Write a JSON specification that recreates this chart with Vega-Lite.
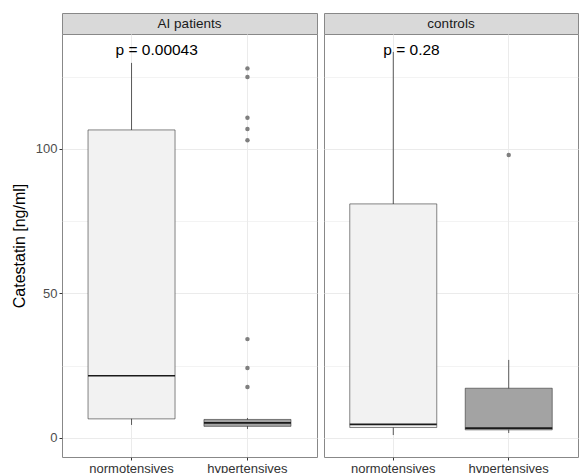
{
  "$schema": "https://vega.github.io/schema/vega-lite/v6.json",
  "background": "white",
  "padding": {"left": 10, "top": 12, "right": 2, "bottom": 0},
  "config": {"font": "Liberation Sans", "view": {"stroke": null}},
  "datasets": {
    "boxes": [
      {"panel": "AI patients", "group": "normotensives", "lower": 4.5, "q1": 6.6, "median": 21.5, "q3": 106.6, "upper": 129.8},
      {"panel": "AI patients", "group": "hypertensives", "lower": 3.1, "q1": 4.0, "median": 5.2, "q3": 6.4, "upper": 6.9},
      {"panel": "controls", "group": "normotensives", "lower": 1.0, "q1": 3.6, "median": 4.7, "q3": 81.0, "upper": 133.6},
      {"panel": "controls", "group": "hypertensives", "lower": 1.7, "q1": 2.8, "median": 3.4, "q3": 17.2, "upper": 27.0}
    ],
    "outliers": [
      {"panel": "AI patients", "group": "hypertensives", "value": 127.9},
      {"panel": "AI patients", "group": "hypertensives", "value": 124.9},
      {"panel": "AI patients", "group": "hypertensives", "value": 110.8},
      {"panel": "AI patients", "group": "hypertensives", "value": 106.9},
      {"panel": "AI patients", "group": "hypertensives", "value": 103.0},
      {"panel": "AI patients", "group": "hypertensives", "value": 34.2},
      {"panel": "AI patients", "group": "hypertensives", "value": 24.2},
      {"panel": "AI patients", "group": "hypertensives", "value": 17.6},
      {"panel": "controls", "group": "hypertensives", "value": 97.9}
    ],
    "pvals": [
      {"panel": "AI patients", "group": "normotensives", "y": 132.5, "label": "p = 0.00043"},
      {"panel": "controls", "group": "normotensives", "y": 132.5, "label": "p = 0.28"}
    ]
  },
  "spacing": 5,
  "hconcat": [
    {
      "bounds": "flush",
      "spacing": 0,
      "vconcat": [
        {
          "data": {"values": [{"panel": "AI patients"}]},
          "width": 255, "height": 21,
          "view": {"fill": "#D9D9D9", "stroke": "#888888", "strokeWidth": 1},
          "mark": {"type": "text", "fontSize": 13.5, "color": "#1A1A1A", "baseline": "middle"},
          "encoding": {"text": {"field": "panel"}}
        },
        {
          "width": 255, "height": 423,
          "view": {"fill": "white", "stroke": "#888888", "strokeWidth": 1},
          "encoding": {
            "x": {"field": "group", "type": "nominal", "title": null,
              "scale": {"type": "band", "domain": ["normotensives", "hypertensives"], "paddingInner": 0, "paddingOuter": 0.1},
              "axis": {"bandPosition": 0.5, "grid": true, "gridColor": "#EBEBEB", "domain": false, "tickColor": "#333333", "tickSize": 3, "labelFontSize": 13, "labelColor": "#333333", "labelPadding": 2, "labelAngle": 0}
            }
          },
          "layer": [
            {
              "data": {"name": "boxes"},
              "transform": [{"filter": "datum.panel === 'AI patients'"}],
              "mark": {"type": "rule", "color": "#333333", "strokeWidth": 0.8},
              "encoding": {
                "y": {"field": "lower", "type": "quantitative", "title": "Catestatin [ng/ml]",
                  "scale": {"domain": [-6.6, 139.8], "nice": false, "zero": false},
                  "axis": {"values": [0, 25, 50, 75, 100, 125], "labelExpr": "datum.value % 50 === 0 ? datum.label : ''",
                    "grid": true, "gridColor": "#EBEBEB", "gridWidth": {"condition": {"test": "datum.value % 50 === 0", "value": 1}, "value": 0.6},
                    "domain": false, "tickColor": "#333333", "tickSize": 3,
                    "tickOpacity": {"condition": {"test": "datum.value % 50 === 0", "value": 1}, "value": 0},
                    "labelFontSize": 13, "labelColor": "#4D4D4D", "labelPadding": 2,
                    "titleFontSize": 16, "titleFontWeight": "normal", "titleColor": "black", "titlePadding": 8}
                },
                "y2": {"field": "upper"}
              }
            },
            {
              "data": {"name": "boxes"},
              "transform": [{"filter": "datum.panel === 'AI patients'"}],
              "mark": {"type": "bar", "size": 87, "stroke": "#333333", "strokeWidth": 0.6},
              "encoding": {
                "y": {"field": "q1", "type": "quantitative", "title": "Catestatin [ng/ml]"},
                "y2": {"field": "q3"},
                "fill": {"field": "group", "type": "nominal", "legend": null,
                  "scale": {"domain": ["normotensives", "hypertensives"], "range": ["#F2F2F2", "#A3A3A3"]}}
              }
            },
            {
              "data": {"name": "boxes"},
              "transform": [{"filter": "datum.panel === 'AI patients'"}],
              "mark": {"type": "tick", "size": 87, "thickness": 1.6, "color": "#1A1A1A", "opacity": 1},
              "encoding": {
                "y": {"field": "median", "type": "quantitative", "title": "Catestatin [ng/ml]"}
              }
            },
            {
              "data": {"name": "outliers"},
              "transform": [{"filter": "datum.panel === 'AI patients'"}],
              "mark": {"type": "point", "filled": true, "size": 20, "color": "#7F7F7F", "opacity": 1},
              "encoding": {
                "y": {"field": "value", "type": "quantitative", "title": "Catestatin [ng/ml]"}
              }
            },
            {
              "data": {"name": "pvals"},
              "transform": [{"filter": "datum.panel === 'AI patients'"}],
              "mark": {"type": "text", "align": "left", "dx": -16, "baseline": "alphabetic", "fontSize": 15.5, "color": "black"},
              "encoding": {
                "y": {"field": "y", "type": "quantitative", "title": "Catestatin [ng/ml]"},
                "text": {"field": "label"}
              }
            }
          ]
        }
      ]
    },
    {
      "bounds": "flush",
      "spacing": 0,
      "vconcat": [
        {
          "data": {"values": [{"panel": "controls"}]},
          "width": 254, "height": 21,
          "view": {"fill": "#D9D9D9", "stroke": "#888888", "strokeWidth": 1},
          "mark": {"type": "text", "fontSize": 13.5, "color": "#1A1A1A", "baseline": "middle"},
          "encoding": {"text": {"field": "panel"}}
        },
        {
          "width": 254, "height": 423,
          "view": {"fill": "white", "stroke": "#888888", "strokeWidth": 1},
          "encoding": {
            "x": {"field": "group", "type": "nominal", "title": null,
              "scale": {"type": "band", "domain": ["normotensives", "hypertensives"], "paddingInner": 0, "paddingOuter": 0.1},
              "axis": {"bandPosition": 0.5, "grid": true, "gridColor": "#EBEBEB", "domain": false, "tickColor": "#333333", "tickSize": 3, "labelFontSize": 13, "labelColor": "#333333", "labelPadding": 2, "labelAngle": 0}
            }
          },
          "layer": [
            {
              "data": {"name": "boxes"},
              "transform": [{"filter": "datum.panel === 'controls'"}],
              "mark": {"type": "rule", "color": "#333333", "strokeWidth": 0.8},
              "encoding": {
                "y": {"field": "lower", "type": "quantitative", "title": null,
                  "scale": {"domain": [-6.6, 139.8], "nice": false, "zero": false},
                  "axis": {"values": [0, 25, 50, 75, 100, 125], "labels": false, "ticks": false, "domain": false,
                    "grid": true, "gridColor": "#EBEBEB", "gridWidth": {"condition": {"test": "datum.value % 50 === 0", "value": 1}, "value": 0.6}}
                },
                "y2": {"field": "upper"}
              }
            },
            {
              "data": {"name": "boxes"},
              "transform": [{"filter": "datum.panel === 'controls'"}],
              "mark": {"type": "bar", "size": 87, "stroke": "#333333", "strokeWidth": 0.6},
              "encoding": {
                "y": {"field": "q1", "type": "quantitative", "title": null},
                "y2": {"field": "q3"},
                "fill": {"field": "group", "type": "nominal", "legend": null,
                  "scale": {"domain": ["normotensives", "hypertensives"], "range": ["#F2F2F2", "#A3A3A3"]}}
              }
            },
            {
              "data": {"name": "boxes"},
              "transform": [{"filter": "datum.panel === 'controls'"}],
              "mark": {"type": "tick", "size": 87, "thickness": 1.6, "color": "#1A1A1A", "opacity": 1},
              "encoding": {
                "y": {"field": "median", "type": "quantitative", "title": null}
              }
            },
            {
              "data": {"name": "outliers"},
              "transform": [{"filter": "datum.panel === 'controls'"}],
              "mark": {"type": "point", "filled": true, "size": 20, "color": "#7F7F7F", "opacity": 1},
              "encoding": {
                "y": {"field": "value", "type": "quantitative", "title": null}
              }
            },
            {
              "data": {"name": "pvals"},
              "transform": [{"filter": "datum.panel === 'controls'"}],
              "mark": {"type": "text", "align": "left", "dx": -10, "baseline": "alphabetic", "fontSize": 15.5, "color": "black"},
              "encoding": {
                "y": {"field": "y", "type": "quantitative", "title": null},
                "text": {"field": "label"}
              }
            }
          ]
        }
      ]
    }
  ]
}
